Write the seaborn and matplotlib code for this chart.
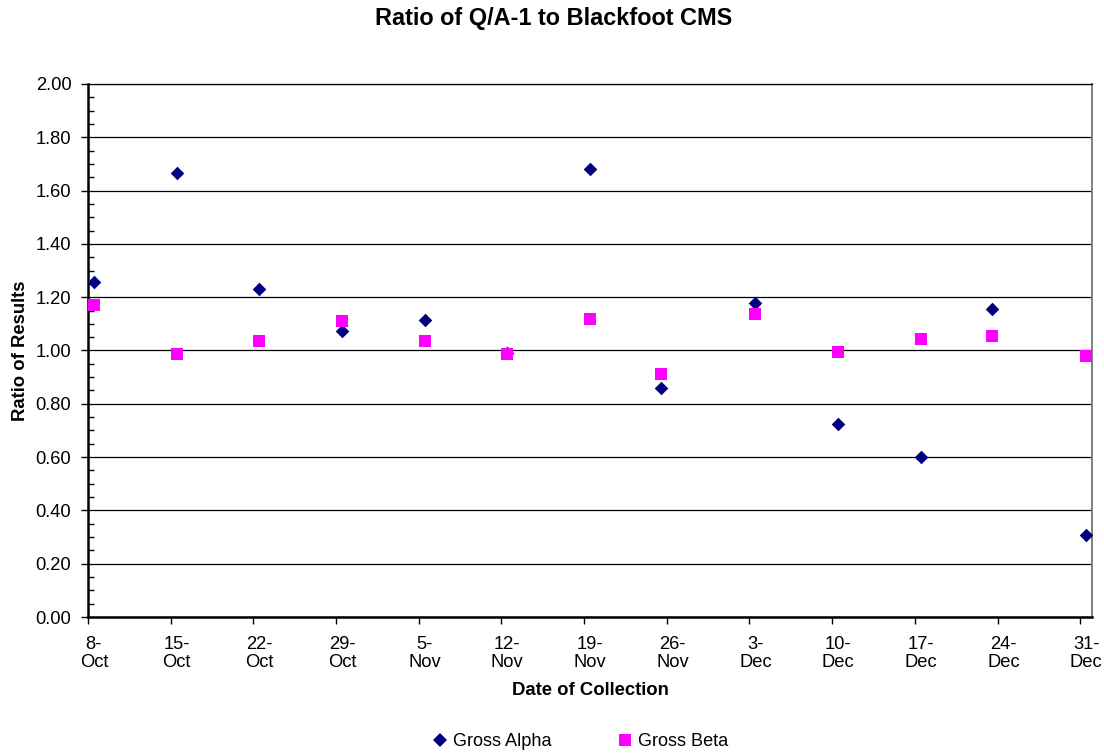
import matplotlib
matplotlib.use("Agg")
import matplotlib.pyplot as plt
import matplotlib.dates as mdates
from matplotlib.ticker import MultipleLocator, FormatStrFormatter, NullFormatter
from matplotlib.lines import Line2D
import seaborn as sns
import pandas as pd

# Weekly collection dates and Q/A-1 : Blackfoot CMS result ratios
collection_dates = ["2007-10-08", "2007-10-15", "2007-10-22", "2007-10-29",
                    "2007-11-05", "2007-11-12", "2007-11-19", "2007-11-25",
                    "2007-12-03", "2007-12-10", "2007-12-17", "2007-12-23",
                    "2007-12-31"]
gross_alpha = [1.257, 1.667, 1.230, 1.072, 1.115, 0.990, 1.680, 0.858,
               1.179, 0.724, 0.600, 1.157, 0.309]
gross_beta = [1.172, 0.985, 1.037, 1.110, 1.036, 0.986, 1.117, 0.910,
              1.137, 0.996, 1.042, 1.056, 0.981]
tick_dates = ["2007-10-08", "2007-10-15", "2007-10-22", "2007-10-29",
              "2007-11-05", "2007-11-12", "2007-11-19", "2007-11-26",
              "2007-12-03", "2007-12-10", "2007-12-17", "2007-12-24",
              "2007-12-31"]
tick_labels = ["8-\nOct", "15-\nOct", "22-\nOct", "29-\nOct", "5-\nNov",
               "12-\nNov", "19-\nNov", "26-\nNov", "3-\nDec", "10-\nDec",
               "17-\nDec", "24-\nDec", "31-\nDec"]

ALPHA_COLOR = "#000080"
BETA_COLOR = "#FF00FF"

sns.set_theme(style="white")
plt.rcParams["font.family"] = ["Liberation Sans", "DejaVu Sans"]
plt.rcParams.update({"text.color": "black", "axes.labelcolor": "black",
                     "xtick.color": "black", "ytick.color": "black"})

# samples are plotted at mid-day of their collection date
when = pd.to_datetime(collection_dates) + pd.Timedelta(hours=12)
df = pd.DataFrame({"when": when, "alpha": gross_alpha, "beta": gross_beta})

fig = plt.figure(figsize=(11.04, 7.53), dpi=100)
ax = fig.add_axes([88 / 1104, 1 - 617 / 753, (1092 - 88) / 1104, (617 - 84) / 753])

sns.scatterplot(data=df, x="when", y="alpha", ax=ax, marker="D", s=48,
                color=ALPHA_COLOR, linewidth=0, zorder=3)
sns.scatterplot(data=df, x="when", y="beta", ax=ax, marker="s", s=70,
                color=BETA_COLOR, linewidth=0, zorder=4)

# axis limits
ax.set_xlim(pd.Timestamp("2007-10-08"), pd.Timestamp("2008-01-01"))
ax.set_ylim(0, 2.0)

# y axis: major ticks outside with labels, minor ticks inside
ax.yaxis.set_major_locator(MultipleLocator(0.2))
ax.yaxis.set_major_formatter(FormatStrFormatter("%.2f"))
ax.yaxis.set_minor_locator(MultipleLocator(0.05))
ax.tick_params(axis="y", which="major", direction="out", length=5, width=1,
               labelsize=13.2, pad=7, left=True)
ax.tick_params(axis="y", which="minor", direction="in", length=4, width=1,
               left=True)

# x axis: ticks at midnight, labels centred on the day
tick_pos = pd.to_datetime(tick_dates)
ax.set_xticks(mdates.date2num(tick_pos))
ax.xaxis.set_major_formatter(NullFormatter())
ax.set_xticks(mdates.date2num(tick_pos + pd.Timedelta(hours=12)), minor=True)
ax.set_xticklabels(tick_labels, minor=True)
ax.tick_params(axis="x", which="major", direction="out", length=5, width=1,
               bottom=True)
ax.tick_params(axis="x", which="minor", length=0, labelsize=13.2, pad=14,
               bottom=True)
for lbl in ax.get_xticklabels(minor=True):
    lbl.set_linespacing(1.05)

ax.yaxis.grid(True, which="major", color="black", linewidth=0.9)
ax.xaxis.grid(False)
ax.set_axisbelow(True)

for side in ("left", "bottom"):
    ax.spines[side].set_color("black")
    ax.spines[side].set_linewidth(1.8)
ax.spines["right"].set_color("#808080")
ax.spines["right"].set_linewidth(1.4)
ax.spines["top"].set_color("black")
ax.spines["top"].set_linewidth(0.9)

ax.set_xlabel("Date of Collection", fontsize=13.3, fontweight="bold", labelpad=8)
ax.set_ylabel("Ratio of Results", fontsize=13.3, fontweight="bold", labelpad=5)

fig.text(554 / 1104, 1 - 19 / 753, "Ratio of Q/A-1 to Blackfoot CMS",
         ha="center", va="center", fontsize=16.9, fontweight="bold")

handles = [
    Line2D([], [], linestyle="none", marker="D", markersize=6.9,
           markerfacecolor=ALPHA_COLOR, markeredgewidth=0, label="Gross Alpha"),
    Line2D([], [], linestyle="none", marker="s", markersize=8.4,
           markerfacecolor=BETA_COLOR, markeredgewidth=0, label="Gross Beta"),
]
fig.legend(handles=handles, loc="center", bbox_to_anchor=(580 / 1104, 1 - 742 / 753),
           ncol=2, frameon=False, fontsize=13.1, handlelength=0.9,
           handletextpad=0.25, columnspacing=3.6)

fig.savefig("out.png", dpi=100)
